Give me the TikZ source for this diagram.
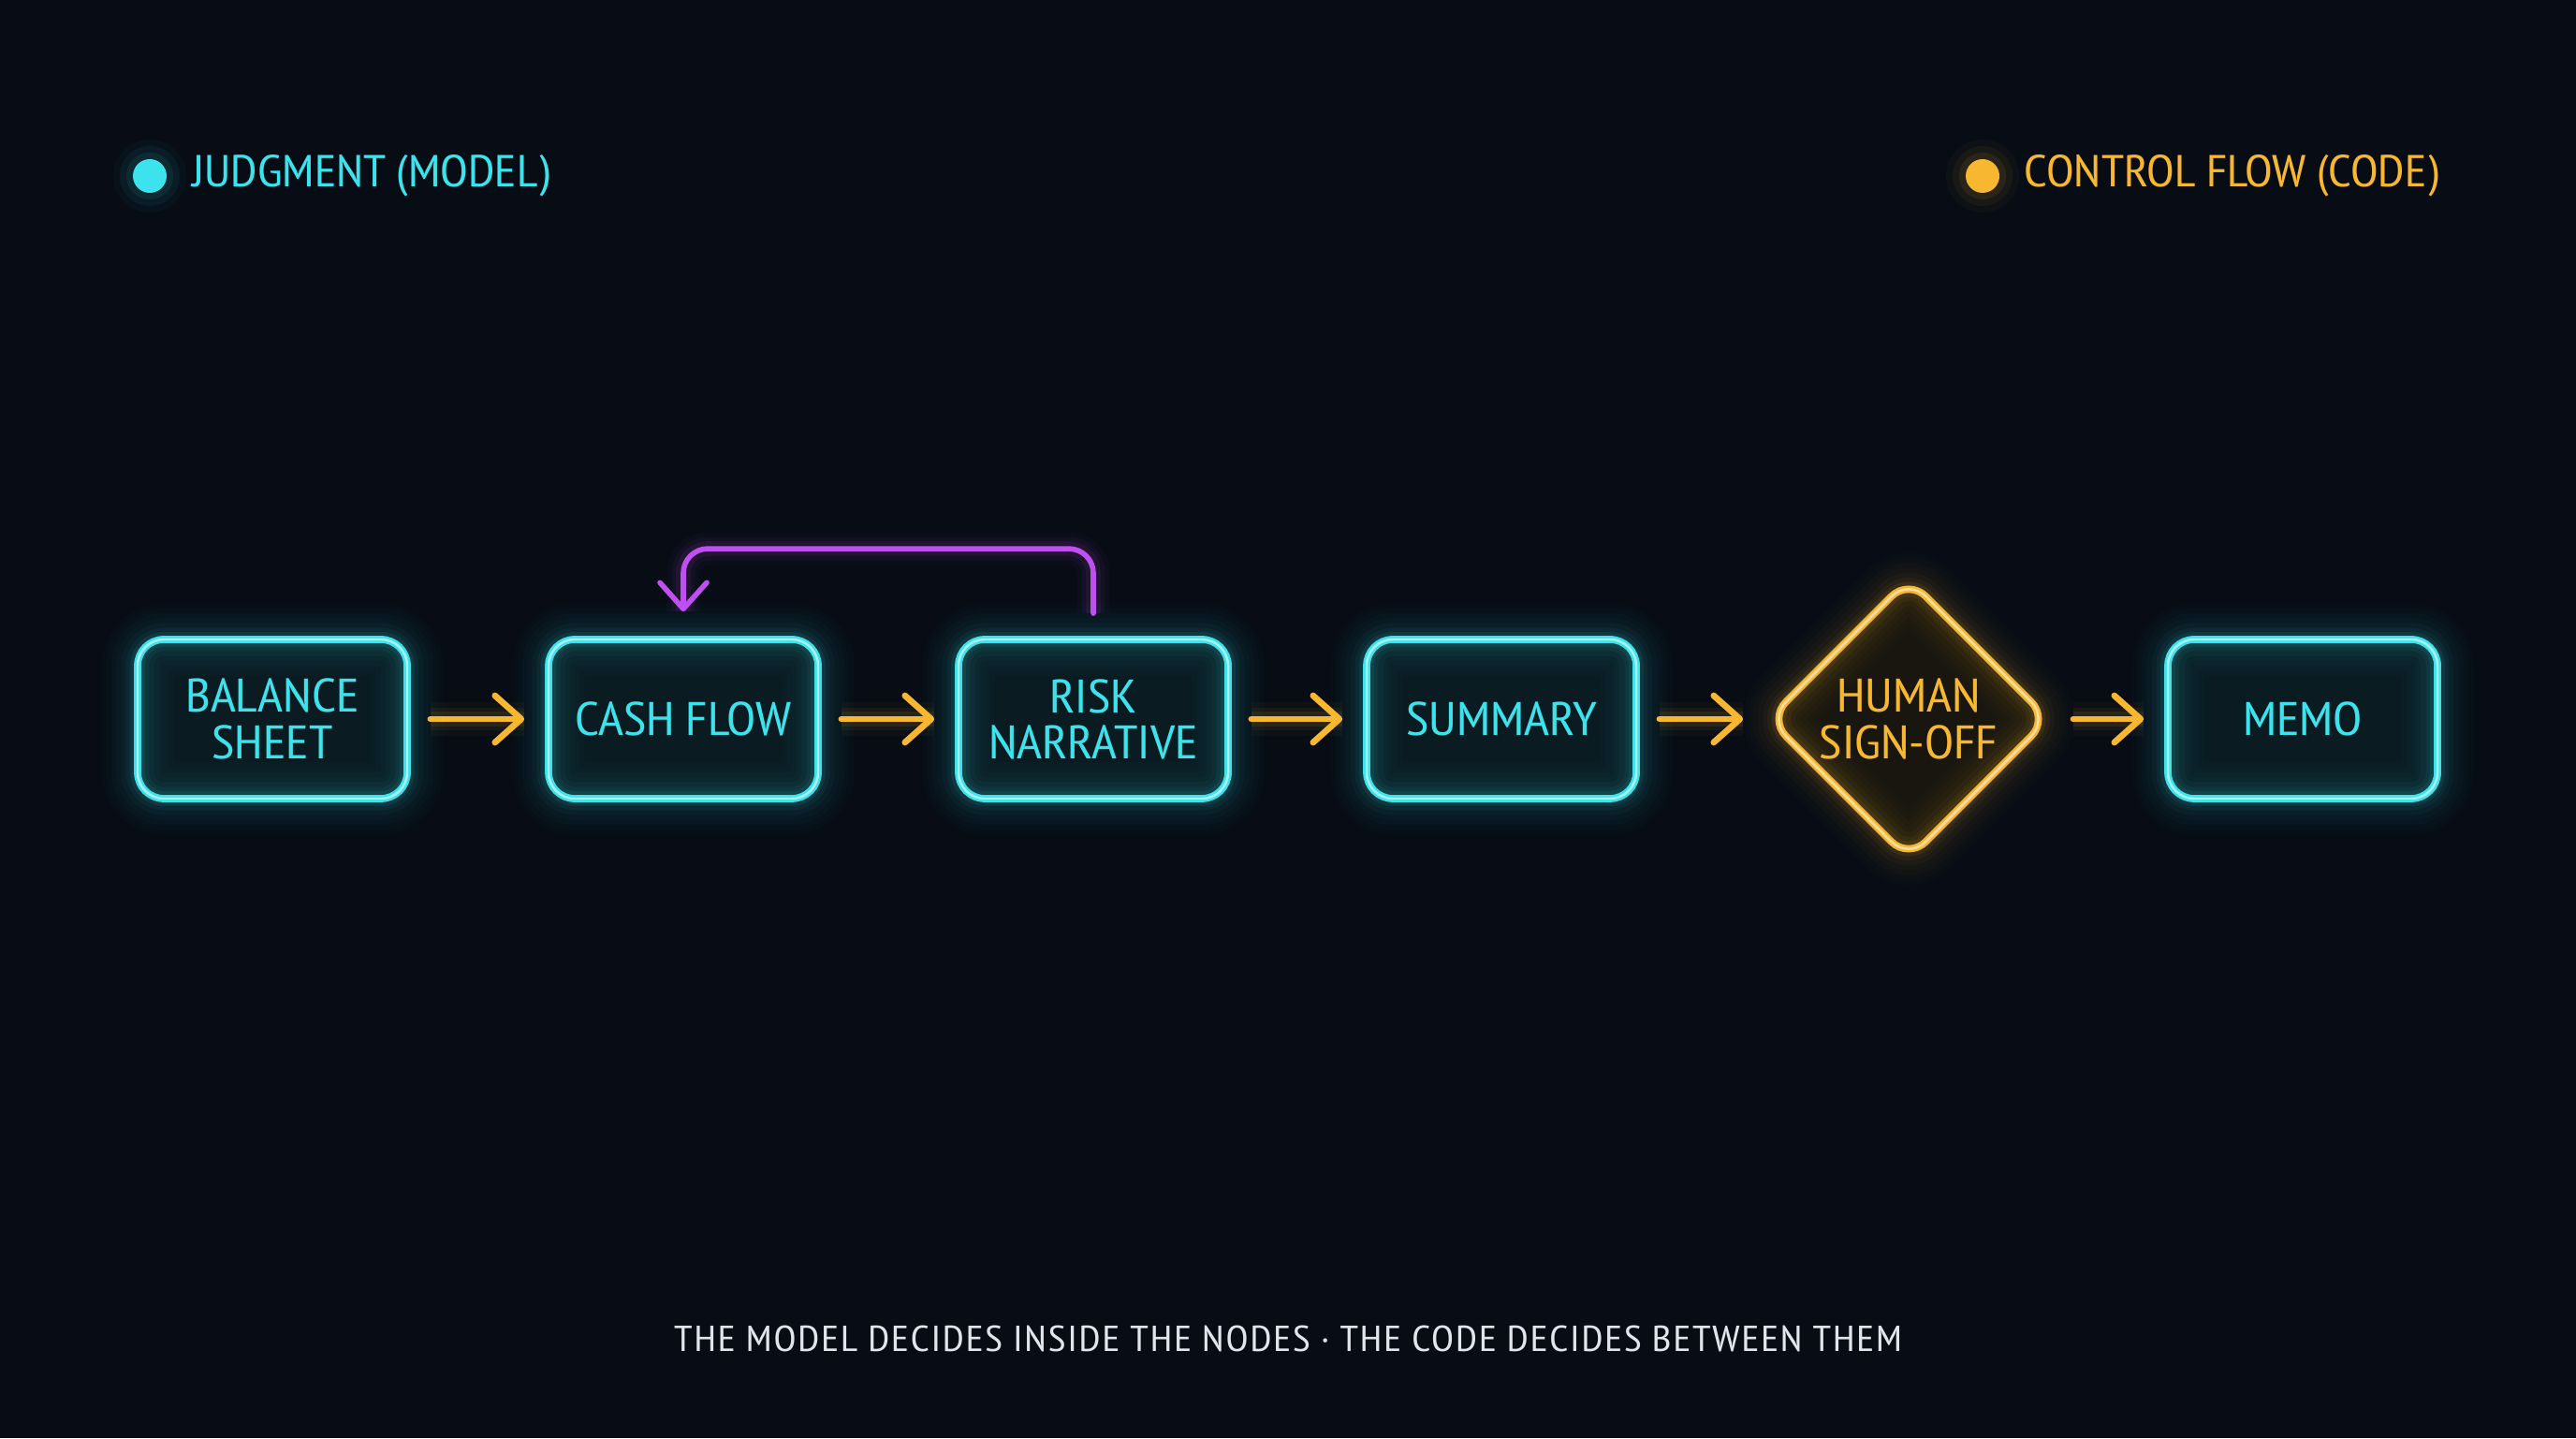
\documentclass[tikz,border=0pt]{standalone}
\usepackage{fontspec}
\setmainfont{PT Sans Narrow}[FakeStretch=1.13]
\usepackage{tikz}
\usetikzlibrary{arrows.meta}
\usetikzlibrary{shapes.geometric}
\definecolor{bg}{HTML}{070C15}
\definecolor{judg}{HTML}{3DE3EC}
\definecolor{ctrl}{HTML}{F7B731}
\definecolor{loopc}{HTML}{C04FF0}
\definecolor{boxfill}{HTML}{0A1B22}
\definecolor{gatefill}{HTML}{18160F}
\definecolor{captxt}{HTML}{E2E6EC}
\tikzset{glow/.style = {preaction={draw=#1, line width=22pt, opacity=0.015},
                        preaction={draw=#1, line width=19pt, opacity=0.015},
                        preaction={draw=#1, line width=16pt, opacity=0.02},
                        preaction={draw=#1, line width=13pt, opacity=0.025},
                        preaction={draw=#1, line width=10pt, opacity=0.035},
                        preaction={draw=#1, line width=7pt, opacity=0.05},
                        preaction={draw=#1, line width=4.5pt, opacity=0.08},
                        postaction={draw=white!55!#1, line width=0.7pt}},
         lineglow/.style = {preaction={draw=#1, arrows=-, line width=10pt, opacity=0.03},
                            preaction={draw=#1, arrows=-, line width=7pt, opacity=0.05},
                            preaction={draw=#1, arrows=-, line width=4.5pt, opacity=0.08}},
         model/.style = {rectangle, rounded corners=0.28cm, draw=judg, line width=2.2pt,
                         preaction={fill=boxfill}, glow=judg, minimum width=2.88cm, minimum height=1.70cm,
                         text=judg, align=center, font=\fontsize{14.3}{14}\selectfont},
         gate/.style = {diamond, aspect=1, rounded corners=0.26cm, draw=ctrl, line width=2.2pt,
                        preaction={fill=gatefill}, glow=ctrl, minimum width=3.02cm, minimum height=3.02cm,
                        inner sep=0pt, text=ctrl, align=center, font=\fontsize{14.3}{14}\selectfont},
         barb/.style = {-{Straight Barb[length=0.28cm, width=0.5cm, line cap=round, line join=round]}},
         flow/.style = {barb, draw=ctrl, line width=1.9pt, line cap=round, lineglow=ctrl,
                        shorten <=0.21cm, shorten >=0.22cm},
         loopback/.style = {barb, draw=loopc, line width=1.6pt, line cap=round, lineglow=loopc,
                            rounded corners=0.26cm},
         keydot/.style = {circle, fill=#1, minimum size=0.36cm, inner sep=0pt,
                          preaction={draw=#1, line width=12pt, opacity=0.03},
                          preaction={draw=#1, line width=8pt, opacity=0.05},
                          preaction={draw=#1, line width=4pt, opacity=0.08}},
         keytext/.style = {right, inner sep=0pt, text=#1, font=\fontsize{13.6}{14}\selectfont}}

\begin{document}
\begin{tikzpicture}
    \fill [bg] (0, 0) rectangle (27.52, 15.36);
    \useasboundingbox (0, 0) rectangle (27.52, 15.36);
    % legend
    \node (judgdot) at (1.60, 13.48) [keydot=judg] {};
    \node (judgkey) at (2.05, 13.48) [keytext=judg] {JUDGMENT (MODEL)};
    \node (ctrldot) at (21.18, 13.48) [keydot=ctrl] {};
    \node (ctrlkey) at (21.62, 13.48) [keytext=ctrl] {CONTROL FLOW (CODE)};
    % pipeline
    \node (balance) at (2.91, 7.68) [model] {BALANCE\\SHEET};
    \node (cash) at (7.30, 7.68) [model] {CASH FLOW};
    \node (risk) at (11.68, 7.68) [model] {RISK\\NARRATIVE};
    \node (summary) at (16.04, 7.68) [model] {SUMMARY};
    \node (signoff) at (20.39, 7.68) [gate] {HUMAN\\SIGN-OFF};
    \node (memo) at (24.60, 7.68) [model] {MEMO};
    \draw [flow] (balance) -- (cash);
    \draw [flow] (cash) -- (risk);
    \draw [flow] (risk) -- (summary);
    \draw [flow] (summary) -- (signoff);
    \draw [flow] (signoff) -- (memo);
    \draw [loopback] ([yshift=0.24cm]risk.north) -- ++(0, 0.69) -| ([yshift=0.26cm]cash.north);
    % caption
    \node (caption) at (13.76, 1.06) [text=captxt,
        font=\fontsize{11}{13}\selectfont\addfontfeatures{LetterSpace=5}]
        {THE MODEL DECIDES INSIDE THE NODES · THE CODE DECIDES BETWEEN THEM};
\end{tikzpicture}
\end{document}
